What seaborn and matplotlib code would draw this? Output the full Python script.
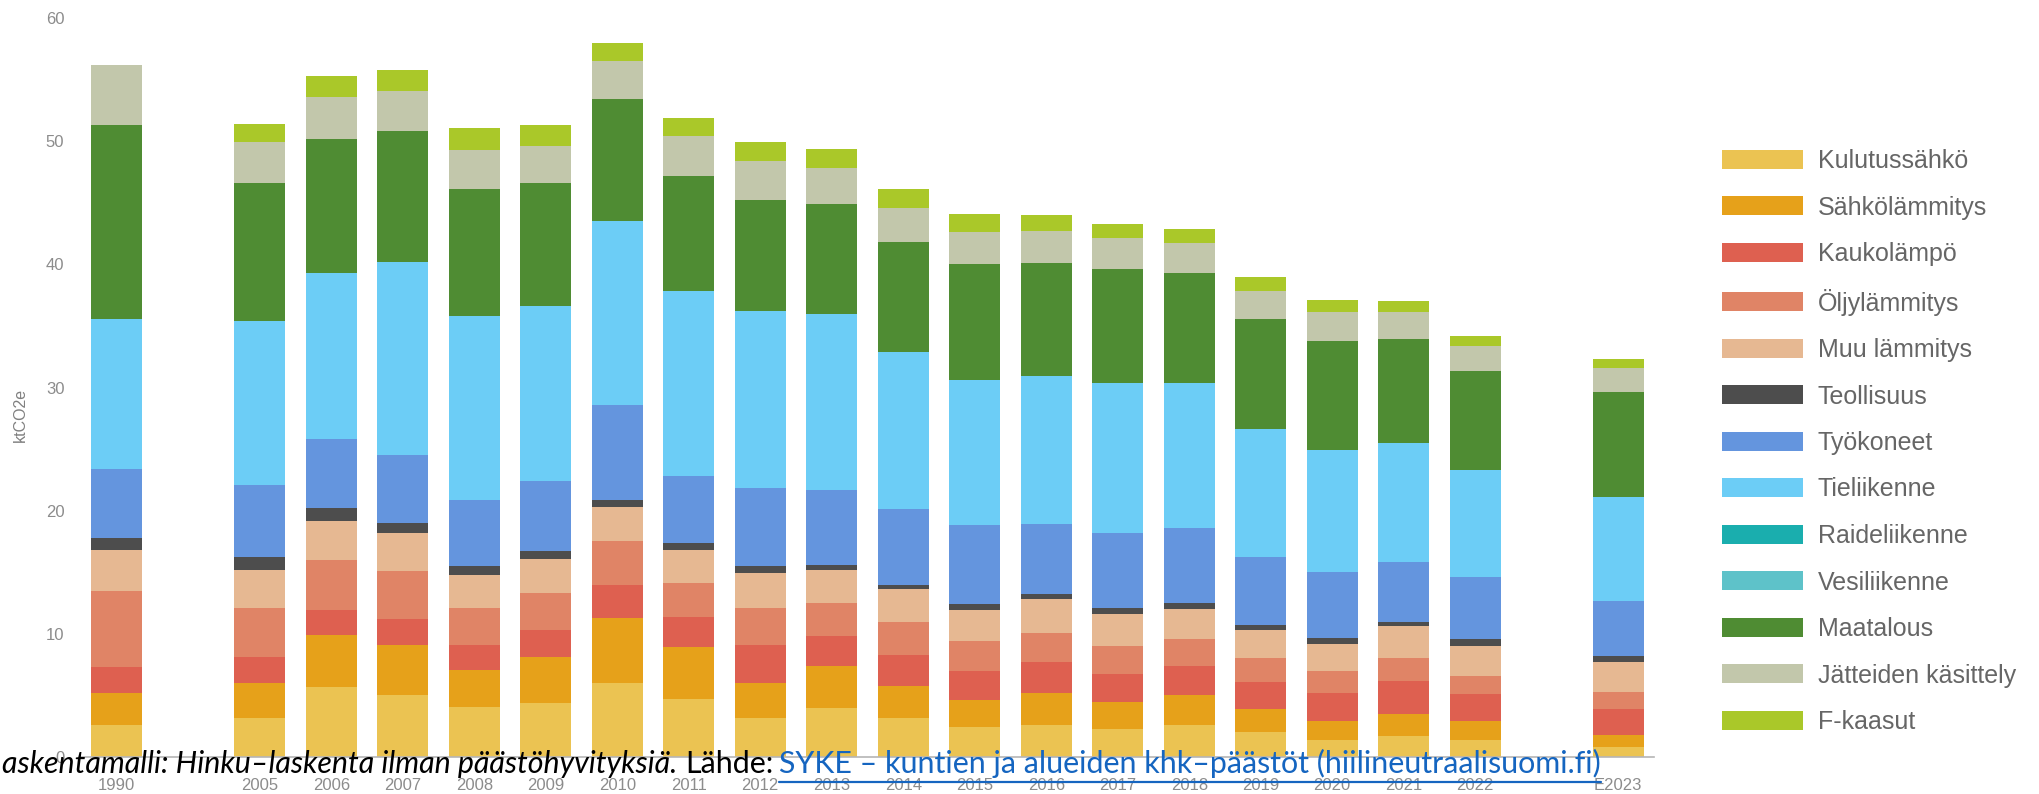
import matplotlib
matplotlib.use("Agg")
import matplotlib.pyplot as plt
import numpy as np
import pandas as pd
import seaborn as sns
from matplotlib.patches import Patch
from matplotlib.lines import Line2D

# Years with data, and the category slots on the x axis (two empty gap slots)
years = ["1990", "2005", "2006", "2007", "2008", "2009", "2010", "2011", "2012",
         "2013", "2014", "2015", "2016", "2017", "2018", "2019", "2020", "2021",
         "2022", "E2023"]
slots = ["1990", " "] + years[1:-1] + ["  ", "E2023"]

# Emissions per sector, ktCO2e
kulutussahko = [2.6, 3.2, 5.7, 5.0, 4.1, 4.4, 6.0, 4.7, 3.2, 4.0, 3.2, 2.4, 2.6, 2.3, 2.6, 2.0, 1.4, 1.7, 1.4, 0.8]
sahkolammitys = [2.6, 2.8, 4.2, 4.1, 3.0, 3.7, 5.3, 4.2, 2.8, 3.4, 2.6, 2.2, 2.6, 2.2, 2.4, 1.9, 1.5, 1.8, 1.5, 1.0]
kaukolampo = [2.1, 2.1, 2.0, 2.1, 2.0, 2.2, 2.7, 2.5, 3.1, 2.4, 2.5, 2.4, 2.5, 2.2, 2.4, 2.2, 2.3, 2.7, 2.2, 2.1]
oljylammitys = [6.2, 4.0, 4.1, 3.9, 3.0, 3.0, 3.5, 2.7, 3.0, 2.7, 2.7, 2.4, 2.4, 2.3, 2.2, 1.9, 1.8, 1.8, 1.5, 1.4]
muu_lammitys = [3.3, 3.1, 3.2, 3.1, 2.7, 2.8, 2.8, 2.7, 2.8, 2.7, 2.6, 2.5, 2.7, 2.6, 2.4, 2.3, 2.2, 2.6, 2.4, 2.4]
teollisuus = [1.0, 1.0, 1.0, 0.8, 0.7, 0.6, 0.6, 0.6, 0.6, 0.4, 0.4, 0.5, 0.4, 0.5, 0.5, 0.4, 0.5, 0.4, 0.6, 0.5]
tyokoneet = [5.6, 5.9, 5.6, 5.5, 5.4, 5.7, 7.7, 5.4, 6.3, 6.1, 6.1, 6.4, 5.7, 6.1, 6.1, 5.5, 5.3, 4.8, 5.0, 4.5]
tieliikenne = [12.2, 13.3, 13.5, 15.7, 14.9, 14.2, 14.9, 15.0, 14.4, 14.3, 12.8, 11.8, 12.0, 12.2, 11.8, 10.4, 9.9, 9.7, 8.7, 8.4]
raideliikenne = [0.0] * 20
vesiliikenne = [0.0] * 20
maatalous = [15.7, 11.2, 10.9, 10.6, 10.3, 10.0, 9.9, 9.4, 9.0, 8.9, 8.9, 9.4, 9.2, 9.2, 8.9, 9.0, 8.9, 8.4, 8.0, 8.5]
jatteiden_kasittely = [4.9, 3.3, 3.4, 3.3, 3.2, 3.0, 3.1, 3.2, 3.2, 2.9, 2.8, 2.6, 2.6, 2.5, 2.4, 2.2, 2.3, 2.2, 2.1, 2.0]
f_kaasut = [0.0, 1.5, 1.7, 1.7, 1.8, 1.7, 1.5, 1.5, 1.5, 1.6, 1.5, 1.5, 1.3, 1.2, 1.2, 1.2, 1.0, 0.9, 0.8, 0.7]

series_names = ["Kulutussähkö", "Sähkölämmitys", "Kaukolämpö", "Öljylämmitys",
                "Muu lämmitys", "Teollisuus", "Työkoneet", "Tieliikenne",
                "Raideliikenne", "Vesiliikenne", "Maatalous", "Jätteiden käsittely",
                "F-kaasut"]
series_values = [kulutussahko, sahkolammitys, kaukolampo, oljylammitys, muu_lammitys,
                 teollisuus, tyokoneet, tieliikenne, raideliikenne, vesiliikenne,
                 maatalous, jatteiden_kasittely, f_kaasut]
series_colors = ["#EBC352", "#E6A11A", "#DE6050", "#E08466", "#E6B892", "#4D4D4D",
                 "#6495DE", "#6CCDF6", "#1AAEAE", "#5EC2C9", "#4F8C33", "#C2C7AB",
                 "#AAC829"]

sns.set_theme(style="white")
plt.rcParams["font.family"] = ["Liberation Sans", "DejaVu Sans"]

W, H = 2040, 794
fig = plt.figure(figsize=(W / 100, H / 100), dpi=100)
fig.patch.set_facecolor("white")
ax = fig.add_axes([81 / W, 37 / H, (1654 - 81) / W, (776 - 37) / H])

df = pd.DataFrame(dict(zip(series_names, series_values)), index=years)
cum = df.cumsum(axis=1)

# Stacked bars: draw running totals from the top layer down
for name, color in reversed(list(zip(series_names, series_colors))):
    sns.barplot(x=years, y=cum[name].values, order=slots, color=color,
                width=0.71, saturation=1, linewidth=0, errorbar=None, ax=ax)

ax.set_ylim(0, 60)
ax.set_xlim(-0.5, len(slots) - 0.5)
ax.set_yticks(range(0, 61, 10))
ax.set_xlabel("")
ax.set_ylabel("")
for side in ("left", "right", "top"):
    ax.spines[side].set_visible(False)
ax.spines["bottom"].set_color("#b5b5b5")
ax.spines["bottom"].set_linewidth(1.2)
ax.tick_params(axis="both", length=0, labelsize=12, colors="#8c8c8c")
ax.tick_params(axis="y", pad=12)
ax.tick_params(axis="x", pad=15)
ax.grid(False)

fig.text(20 / W, 1 - 415 / H, "ktCO2e", rotation=90, ha="center", va="center",
         fontsize=11.5, color="#808080")

# Legend
handles = [Patch(facecolor=c, edgecolor="none") for c in series_colors]
fs = 18
fs_px = fs * 100 / 72
fig.legend(handles, series_names, loc="upper left",
           bbox_to_anchor=(1722 / W, 1 - 149 / H), frameon=False,
           prop={"family": ["Liberation Sans", "DejaVu Sans"], "size": fs},
           labelcolor="#666666", handlelength=81 / fs_px,
           handleheight=20 / fs_px, handletextpad=15 / fs_px, labelspacing=0.9,
           borderpad=0, borderaxespad=0)

# Caption line along the bottom edge
renderer = fig.canvas.get_renderer()
cap_font = ["Lato", "DejaVu Sans"]
pieces = [
    ("askentamalli: Hinku–laskenta ilman päästöhyvityksiä.", dict(style="italic", color="black"), 8),
    ("Lähde:", dict(color="black"), 6),
    ("SYKE – kuntien ja alueiden khk–päästöt (hiilineutraalisuomi.fi)", dict(color="#1565C0"), 0),
]

def place_caption(size):
    x_px = 2
    made = []
    for txt, kw, gap in pieces:
        t = fig.text(x_px / W, 21 / H, txt, fontsize=size, family=cap_font,
                     ha="left", va="baseline", zorder=10, **kw)
        bb = t.get_window_extent(renderer)
        made.append((t, bb))
        x_px = bb.x1 + gap
    return made, x_px

made, end_px = place_caption(20)
for t, _ in made:
    t.remove()
size = 20 * (1604 - 2 - 14) / (end_px - 2 - 14)
made, end_px = place_caption(size)

link_bb = made[-1][1]
fig.add_artist(Line2D([link_bb.x0 / W, link_bb.x1 / W], [12 / H, 12 / H],
                      transform=fig.transFigure, color="#1565C0", linewidth=1.6,
                      zorder=10))

fig.savefig("out.png", dpi=100, facecolor="white")
